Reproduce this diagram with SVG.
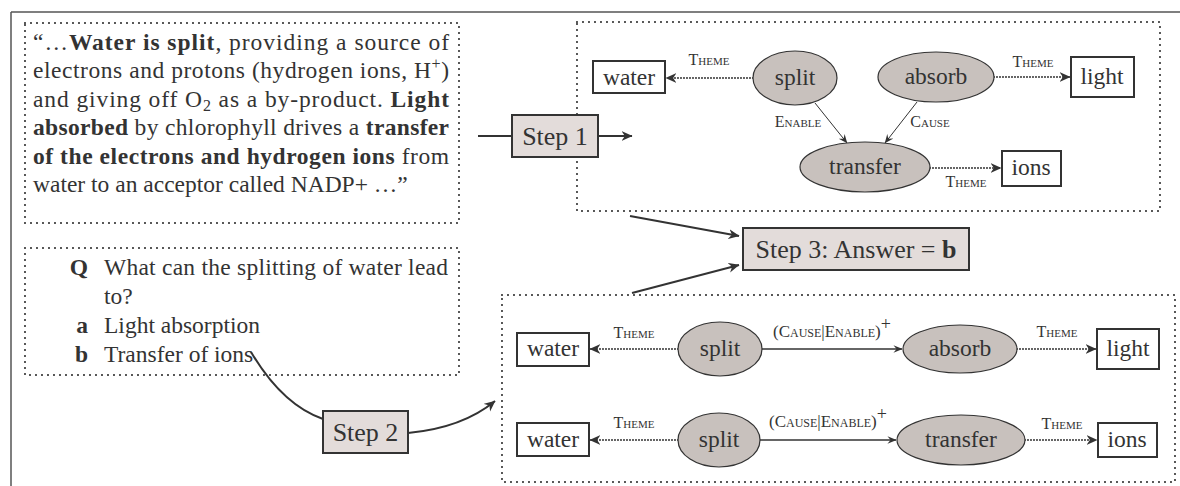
<svg xmlns="http://www.w3.org/2000/svg" width="1180" height="486" viewBox="0 0 1180 486">
<style>
text{font-family:"Liberation Serif","Times New Roman",serif;fill:#333}
.t{font-size:23.5px}
.n{font-size:23.5px;text-anchor:middle}
.s{font-size:26px;text-anchor:middle}
.lab{font-size:16px;font-variant:small-caps;text-anchor:middle}
.lab2{font-size:17px;font-variant:small-caps}
.box{fill:#fff;stroke:#333;stroke-width:2}
.ell{fill:#c8c1bd;stroke:#333;stroke-width:1.2}
.step{fill:#e3dcda;stroke:#333;stroke-width:2}
.frame{fill:none;stroke:#333;stroke-width:2.2;stroke-dasharray:0 6;stroke-linecap:round}
.dot{fill:none;stroke:#333;stroke-width:2;stroke-dasharray:0 3;stroke-linecap:round}
.thin{fill:none;stroke:#333;stroke-width:1}
.sol{fill:none;stroke:#333;stroke-width:1.3}
.big{fill:none;stroke:#333;stroke-width:2}
</style>
<defs>
<marker id="st" viewBox="0 0 10 10" refX="9.5" refY="5" markerWidth="11" markerHeight="11" markerUnits="userSpaceOnUse" orient="auto"><path d="M0,0.5 L10,5 L0,9.5 L3,5 z" fill="#333"/></marker>
<marker id="sm" viewBox="0 0 10 10" refX="9.5" refY="5" markerWidth="9" markerHeight="9" markerUnits="userSpaceOnUse" orient="auto"><path d="M0,0.8 L10,5 L0,9.2 L3.5,5 z" fill="#333"/></marker>
</defs>

<g id="frame"><path d="M11 12 L1180 12 M11 12 L11 486" fill="none" stroke="#555" stroke-width="1.5"/></g>

<g id="passage">
<rect class="frame" x="25" y="23" width="434" height="200"/>
<text class="t" x="33" y="49.5" textLength="416" lengthAdjust="spacing">“…<tspan font-weight="bold">Water is split</tspan>, providing a source of</text>
<text class="t" x="33" y="78" textLength="416" lengthAdjust="spacing">electrons and protons (hydrogen ions, H<tspan font-size="16" dy="-9">+</tspan><tspan dy="9">)</tspan></text>
<text class="t" x="33" y="106.5" textLength="416" lengthAdjust="spacing">and giving off O<tspan font-size="16" dy="4">2</tspan><tspan dy="-4"> as a by-product. </tspan><tspan font-weight="bold">Light</tspan></text>
<text class="t" x="33" y="135" textLength="416" lengthAdjust="spacing"><tspan font-weight="bold">absorbed</tspan> by chlorophyll drives a <tspan font-weight="bold">transfer</tspan></text>
<text class="t" x="33" y="163.5" textLength="416" lengthAdjust="spacing"><tspan font-weight="bold">of the electrons and hydrogen ions</tspan> from</text>
<text class="t" x="33" y="192">water to an acceptor called NADP+ …”</text>
</g>

<g id="question">
<rect class="frame" x="25" y="248" width="434" height="127"/>
<text class="t" x="88" y="275" text-anchor="end" font-weight="bold">Q</text>
<text class="t" x="104" y="275" textLength="344" lengthAdjust="spacing">What can the splitting of water lead</text>
<text class="t" x="104" y="303.5">to?</text>
<text class="t" x="88" y="332.5" text-anchor="end" font-weight="bold">a</text>
<text class="t" x="104" y="332.5">Light absorption</text>
<text class="t" x="88" y="362" text-anchor="end" font-weight="bold">b</text>
<text class="t" x="104" y="362">Transfer of ions</text>
</g>

<g id="top-graph-frame"><rect class="frame" x="577" y="22" width="583" height="189"/></g>
<g id="bottom-graph-frame"><rect class="frame" x="502" y="295" width="673" height="187"/></g>

<g id="connectors">
<path class="big" d="M478 136 L512 136"/>
<path class="big" d="M598 136 L632 136" marker-end="url(#st)"/>
<path class="big" d="M630 216 L739 236" marker-end="url(#st)"/>
<path class="big" d="M632 293 L739 265" marker-end="url(#st)"/>
<path class="big" d="M251 352 C 270 384, 294 409, 323 419"/>
<path class="big" d="M408 433 C 440 430, 472 420, 495 401" marker-end="url(#st)"/>
<path class="dot" d="M753 78 L666 78" marker-end="url(#st)"/>
<path class="dot" d="M994 77 L1070 77" marker-end="url(#st)"/>
<path class="dot" d="M930 168 L1001 168" marker-end="url(#st)"/>
<path class="thin" d="M815 103 L847 143" marker-end="url(#sm)"/>
<path class="thin" d="M917 102 L885 143" marker-end="url(#sm)"/>
<path class="dot" d="M678 349 L590 349" marker-end="url(#st)"/>
<path class="sol" d="M762 349 L902 349" marker-end="url(#sm)"/>
<path class="dot" d="M1017 349 L1096 349" marker-end="url(#st)"/>
<path class="dot" d="M678 440 L590 440" marker-end="url(#st)"/>
<path class="sol" d="M760 440 L896 440" marker-end="url(#sm)"/>
<path class="dot" d="M1025 440 L1097 440" marker-end="url(#st)"/>
<text class="lab" x="709" y="65">Theme</text>
<text class="lab" x="1033" y="67">Theme</text>
<text class="lab" x="966" y="187">Theme</text>
<text class="lab" x="798" y="127">Enable</text>
<text class="lab" x="930" y="127">Cause</text>
<text class="lab" x="634" y="338">Theme</text>
<text class="lab2" x="773" y="337">(Cause|Enable)<tspan dy="-7" font-size="18" font-variant="normal">+</tspan></text>
<text class="lab" x="1057" y="337">Theme</text>
<text class="lab" x="634" y="428">Theme</text>
<text class="lab2" x="769" y="427">(Cause|Enable)<tspan dy="-7" font-size="18" font-variant="normal">+</tspan></text>
<text class="lab" x="1062" y="429">Theme</text>
</g>

<g id="step1"><rect class="step" x="512" y="115" width="86" height="42"/><text class="s" x="555" y="145">Step 1</text></g>
<g id="step2"><rect class="step" x="323" y="411" width="85" height="42"/><text class="s" x="365.5" y="441">Step 2</text></g>
<g id="step3"><rect class="step" x="743" y="228" width="226" height="42"/><text class="s" x="856" y="258">Step 3: Answer = <tspan font-weight="bold">b</tspan></text></g>

<g id="t-water"><rect class="box" x="593" y="61" width="72" height="32"/><text class="n" x="629" y="85">water</text></g>
<g id="t-split"><ellipse class="ell" cx="795" cy="78" rx="42" ry="27"/><text class="n" x="795" y="85">split</text></g>
<g id="t-absorb"><ellipse class="ell" cx="936" cy="77" rx="58" ry="25"/><text class="n" x="936" y="84">absorb</text></g>
<g id="t-light"><rect class="box" x="1071" y="57" width="63" height="40"/><text class="n" x="1102" y="84">light</text></g>
<g id="t-transfer"><ellipse class="ell" cx="865" cy="167" rx="65" ry="25"/><text class="n" x="865" y="174">transfer</text></g>
<g id="t-ions"><rect class="box" x="1002" y="151" width="59" height="35"/><text class="n" x="1031" y="175">ions</text></g>

<g id="b1-water"><rect class="box" x="517" y="333" width="72" height="33"/><text class="n" x="553" y="356">water</text></g>
<g id="b1-split"><ellipse class="ell" cx="720" cy="349" rx="42" ry="27"/><text class="n" x="720" y="356">split</text></g>
<g id="b1-absorb"><ellipse class="ell" cx="960" cy="349" rx="57" ry="24"/><text class="n" x="960" y="356">absorb</text></g>
<g id="b1-light"><rect class="box" x="1097" y="329" width="62" height="40"/><text class="n" x="1128" y="356">light</text></g>

<g id="b2-water"><rect class="box" x="517" y="423" width="72" height="33"/><text class="n" x="553" y="447">water</text></g>
<g id="b2-split"><ellipse class="ell" cx="719" cy="440" rx="41" ry="27"/><text class="n" x="719" y="447">split</text></g>
<g id="b2-transfer"><ellipse class="ell" cx="961" cy="440" rx="64" ry="25"/><text class="n" x="961" y="447">transfer</text></g>
<g id="b2-ions"><rect class="box" x="1098" y="423" width="59" height="34"/><text class="n" x="1127" y="447">ions</text></g>
</svg>
